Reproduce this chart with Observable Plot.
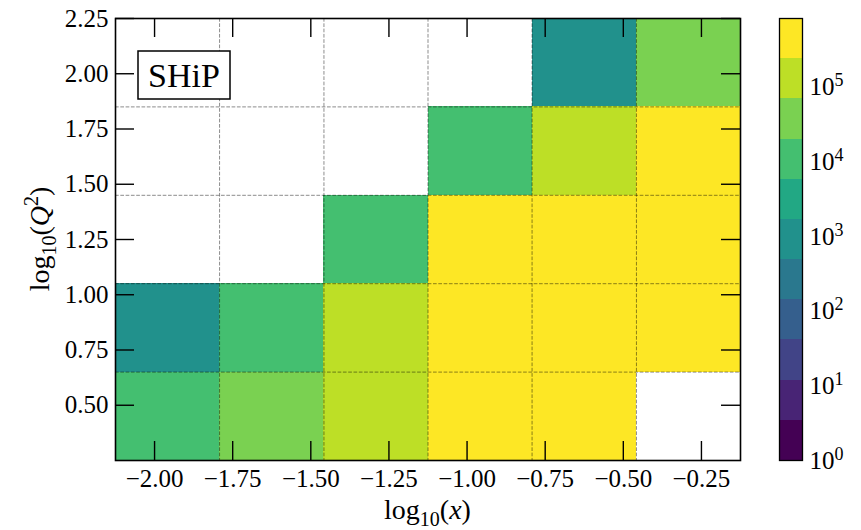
<!DOCTYPE html>
<html>
<head>
<meta charset="utf-8">
<script src="https://cdn.jsdelivr.net/npm/d3@7"></script>
<script src="https://cdn.jsdelivr.net/npm/@observablehq/plot@0.6"></script>
<style>
  body { margin: 0; background: #fff; }
  #chart { display: flex; align-items: flex-start; width: 861px; height: 530px; }
  #chart svg { flex: none; }
</style>
</head>
<body>
<div id="chart"></div>
<script>
// Bin edges in log10(x) and log10(Q^2)
const xEdges = [-2.125, -1.792, -1.458, -1.125, -0.792, -0.458, -0.125];
const yEdges = [0.25, 0.65, 1.05, 1.45, 1.85, 2.25];
// Events per bin; rows run from the lowest Q^2 bin upward, null marks an empty bin
const counts = [
  [1.0e4, 4.5e4, 1.2e5, 4.0e5, 5.0e5, null],
  [1.1e3, 1.2e4, 1.5e5, 5.5e5, 8.4e5, 4.5e5],
  [null,  null,  1.3e4, 4.5e5, 6.0e5, 5.0e5],
  [null,  null,  null,  1.6e4, 1.6e5, 4.0e5],
  [null,  null,  null,  null,  1.3e3, 3.5e4]
];
const xTicks = [-2.0, -1.75, -1.5, -1.25, -1.0, -0.75, -0.5, -0.25];
const yTicks = [0.5, 0.75, 1.0, 1.25, 1.5, 1.75, 2.0, 2.25];
const cbarTicks = [1e0, 1e1, 1e2, 1e3, 1e4, 1e5];
const nLevels = 11;
const experiment = "SHiP";

const FONT = '"Liberation Serif", "DejaVu Serif", serif';

// Figure geometry
const W = 760, H = 530, M = {left: 115, right: 20, top: 18, bottom: 70};
const frameW = W - M.left - M.right, frameH = H - M.top - M.bottom;
const tickLen = 19;

// Non-empty bins as rectangles
const cells = [];
counts.forEach((row, j) => row.forEach((n, i) => {
  if (n != null) cells.push({x1: xEdges[i], x2: xEdges[i + 1], y1: yEdges[j], y2: yEdges[j + 1], n});
}));

// Discrete log colour scale: nLevels viridis steps from 1 to the largest count
const vmax = d3.max(cells, d => d.n);
const thresholds = d3.range(1, nLevels).map(k => Math.pow(vmax, k / nLevels));
const colorOpts = {type: "threshold", domain: thresholds, range: d3.quantize(d3.interpolateViridis, nLevels)};

const fmt = d => (d < 0 ? "\u2212" : "") + Math.abs(d).toFixed(2);
const gridStyle = {stroke: "black", strokeOpacity: 0.45, strokeWidth: 1, strokeDasharray: "3.7,1.6"};
const tickMark = {stroke: "black", strokeWidth: 1.4};

const main = Plot.plot({
  width: W, height: H,
  marginLeft: M.left, marginRight: M.right, marginTop: M.top, marginBottom: M.bottom,
  style: {fontFamily: FONT, fontSize: "25px", color: "black"},
  x: {domain: [xEdges[0], xEdges[xEdges.length - 1]]},
  y: {domain: [yEdges[0], yEdges[yEdges.length - 1]]},
  color: colorOpts,
  marks: [
    Plot.rect(cells, {x1: "x1", x2: "x2", y1: "y1", y2: "y2", fill: "n", shapeRendering: "crispEdges"}),
    Plot.ruleX(xEdges.slice(1, -1), gridStyle),
    Plot.ruleY(yEdges.slice(1, -1), gridStyle),
    // inward ticks on all four sides
    Plot.tickX(xTicks, {x: d => d, insetTop: frameH - tickLen, ...tickMark}),
    Plot.tickX(xTicks, {x: d => d, insetBottom: frameH - tickLen, ...tickMark}),
    Plot.tickY(yTicks, {y: d => d, insetRight: frameW - tickLen, ...tickMark}),
    Plot.tickY(yTicks, {y: d => d, insetLeft: frameW - tickLen, ...tickMark}),
    Plot.axisX(xTicks, {anchor: "bottom", tickSize: 0, tickPadding: 9, tickFormat: fmt, label: null}),
    Plot.axisY(yTicks, {anchor: "left", tickSize: 0, tickPadding: 7, tickFormat: fmt, label: null}),
    Plot.frame({stroke: "black", strokeWidth: 1.6})
  ]
});

// Vertical colour bar
const bands = d3.range(nLevels).map(k => ({lo: Math.pow(vmax, k / nLevels), hi: Math.pow(vmax, (k + 1) / nLevels)}));
const cbar = Plot.plot({
  width: 101, height: H,
  marginLeft: 19, marginRight: 59, marginTop: M.top, marginBottom: M.bottom,
  style: {fontFamily: FONT, fontSize: "25px", color: "black"},
  y: {type: "log", domain: [1, vmax]},
  color: colorOpts,
  marks: [
    Plot.rect(bands, {y1: "lo", y2: "hi", fill: d => Math.sqrt(d.lo * d.hi), shapeRendering: "crispEdges"}),
    Plot.axisY(cbarTicks, {anchor: "right", tickSize: 0, tickPadding: 7, label: null,
      tickFormat: d => String(Math.round(Math.log10(d)))}),
    Plot.frame({stroke: "black", strokeWidth: 1.3})
  ]
});

const root = document.getElementById("chart");
root.append(main, cbar);

// Colour bar labels as powers of ten
d3.select(cbar).selectAll('g[aria-label="y-axis tick label"] text').each(function () {
  const e = this.textContent;
  const t = d3.select(this);
  t.text("10");
  t.append("tspan").attr("dy", "-9").attr("font-size", "18").text(e);
});

// Axis titles with sub/superscripts
const [fx0, fx1] = main.scale("x").range;
const [fy0, fy1] = main.scale("y").range;
const svg = d3.select(main);

const xl = svg.append("text")
  .attr("x", (fx0 + fx1) / 2).attr("y", 519)
  .attr("text-anchor", "middle").attr("font-size", 28).attr("fill", "black");
xl.append("tspan").text("log");
xl.append("tspan").attr("dy", 7).attr("font-size", 20).text("10");
xl.append("tspan").attr("dy", -7).text("(");
xl.append("tspan").attr("font-style", "italic").text("x");
xl.append("tspan").text(")");

const yl = svg.append("text")
  .attr("transform", `translate(49,${(fy0 + fy1) / 2}) rotate(-90)`)
  .attr("text-anchor", "middle").attr("font-size", 28).attr("fill", "black");
yl.append("tspan").text("log");
yl.append("tspan").attr("dy", 7).attr("font-size", 20).text("10");
yl.append("tspan").attr("dy", -7).text("(");
yl.append("tspan").attr("font-style", "italic").text("Q");
yl.append("tspan").attr("dy", -11).attr("font-size", 20).text("2");
yl.append("tspan").attr("dy", 11).text(")");

// Experiment tag in the upper-left corner of the frame
const tag = svg.append("g").attr("transform", `translate(${fx0 + 23},${fy1 + 33})`);
tag.append("rect").attr("width", 92).attr("height", 48)
  .attr("fill", "white").attr("stroke", "black").attr("stroke-width", 1.5);
tag.append("text").attr("x", 46).attr("y", 36).attr("text-anchor", "middle")
  .attr("font-size", 34).attr("fill", "black").text(experiment);
</script>
</body>
</html>
